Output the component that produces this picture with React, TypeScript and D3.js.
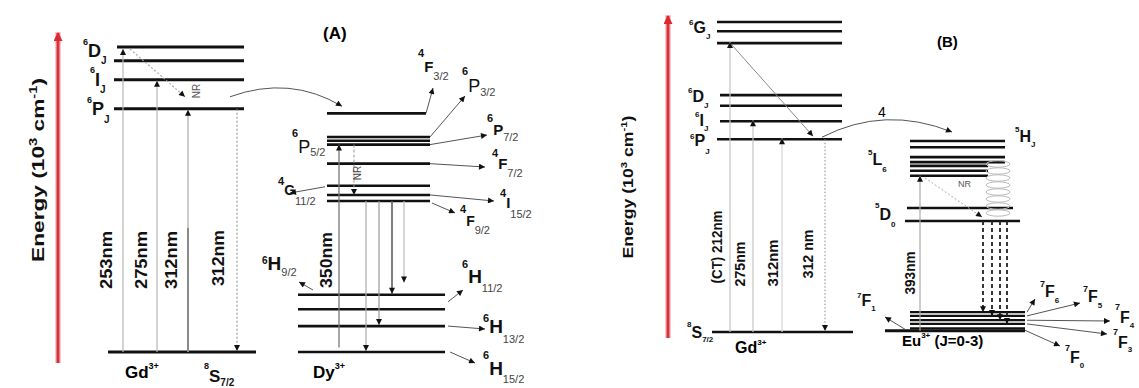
import React from 'react'
import { scaleLinear, path, range } from 'd3'

const FONT = '"Liberation Sans", Arial, Helvetica, sans-serif'

// ---------- panel (A): Gd3+ -> Dy3+ (energies as drawn, 10^3 cm^-1) ----------
const gdLevelsA = [31.9, 35.7, 38.2, 40.0] // 6PJ, 6IJ, 6DJ, 6DJ
const gdGroundA = 0 // 8S7/2
const gdExcLabelsA = ['253nm', '275nm', '312nm']
const gdExcTopsA = [40.0, 35.7, 31.9]
const gdEmissionA = ['312nm', 31.9, 0] as const
const dyUpper = [31.3, 28.2, 27.7, 27.2, 24.7, 21.8, 20.6, 19.8]
const dyLower = [7.5, 5.6, 3.4, 0]
const dyExcitation = ['350nm', 0.6, 27.2] as const
const dyEmissionFrom = 19.8
const dyEmissionTo = [0, 3.4, 7.5, 9.0]
const dyNR = [27.2, 20.6]

// ---------- panel (B): Gd3+ -> Eu3+ ----------
const gdLevelsB = [31.1, 34.0, 36.5, 38.2, 46.6, 48.5, 50.0]
const gdGroundB = 0
const gdExcLabelsB = ['(CT) 212nm', '275nm', '312nm']
const gdExcTopsB = [46.6, 34.0, 31.1]
const gdEmissionB = ['312 nm', 31.1, 0] as const
const euH = [30.8, 29.8]
const euLUpper = [28.2, 27.4]
const euLLower = [26.8, 26.0, 25.2]
const euD = [20.0, 17.9]
const euF = [3.2, 2.6, 1.9, 1.3, 0.6]
const euGround = 0.2
const euExcitation = ['393nm', 0.2, 25.2] as const
const euEmissionFrom = 17.9
const euEmissionTo = [3.2, 2.6, 1.9, 1.3]

// term symbols
const dyTerms = [
  ['4', 'F', '3/2'], ['6', 'P', '3/2'], ['6', 'P', '7/2'], ['4', 'F', '7/2'],
  ['4', 'I', '15/2'], ['4', 'F', '9/2'], ['6', 'H', '11/2'], ['6', 'H', '13/2'], ['6', 'H', '15/2'],
]
const euFTerms = [['7', 'F', '6'], ['7', 'F', '5'], ['7', 'F', '4'], ['7', 'F', '3'], ['7', 'F', '0']]

type TermProps = {
  x: number; y: number; t: string[]
  size?: number; supSize?: number; subSize?: number
  supDy?: number; subDy?: number; weight?: string | number
  subFill?: string; subWeight?: string | number
}

function Term({ x, y, t, size = 17, supSize = 9, subSize = 10, supDy = -11, subDy = 7, weight = 'bold', subFill = '#111', subWeight = 'bold' }: TermProps) {
  return (
    <text x={x} y={y} fontSize={size} fontWeight={weight} fill="#111">
      <tspan fontSize={supSize} dy={supDy} fontWeight="bold">{t[0]}</tspan>
      <tspan dy={-supDy}>{t[1]}</tspan>
      {t[2] ? <tspan fontSize={subSize} dy={subDy} fill={subFill} fontWeight={subWeight}>{t[2]}</tspan> : null}
    </text>
  )
}

const VText = ({ x, y, size, len, children, weight = 'bold', fill = '#111' }: any) => (
  <text transform={`translate(${x},${y}) rotate(-90)`} textAnchor="middle" fontSize={size}
    fontWeight={weight} fill={fill} textLength={len} lengthAdjust="spacingAndGlyphs">{children}</text>
)

const Level = ({ x0, x1, y, w = 2.6 }: { x0: number; x1: number; y: number; w?: number }) => (
  <line x1={x0} x2={x1} y1={y} y2={y} stroke="#111" strokeWidth={w} />
)

export default function App() {
  const yA = scaleLinear().domain([0, 40]).range([352, 47])
  const yB = scaleLinear().domain([0, 50]).range([332, 22])

  // layout (A)
  const gdXA: [number, number] = [114, 244]
  const gdGroundXA: [number, number] = [108, 256]
  const gdExcXA = [123, 157, 188]
  const gdExcLabelXA = [112, 147, 177]
  const dyUpX: [number, number] = [327, 430]
  const dyLowX: [number, number] = [298, 445]
  const dyEmX = [366, 379, 392, 404]
  const dyEmCol = ['#aaa', '#999', '#555', '#bbb']

  // layout (B)
  const gdXB: [number, number] = [717, 842]
  const gdGroundXB: [number, number] = [712, 853]
  const gdExcXB = [730, 753, 782]
  const gdExcLabelXB = [722, 745, 778]
  const gdExcLabelYB = [247, 264, 263]
  const gdExcLenB = [73, 45, 47]
  const euX: [number, number] = [910, 1005]
  const euEmX = [983, 992, 1000, 1007]

  const transferA = path()
  transferA.moveTo(230, yA(gdLevelsA[0]) - 12)
  transferA.quadraticCurveTo(290, 75, 342, yA(dyUpper[0]) - 7)

  const transferB = path()
  transferB.moveTo(822, yB(gdLevelsB[0]) - 2)
  transferB.quadraticCurveTo(885, 105, 952, yB(euH[0]) - 9)

  // Dy term label layout: [x, baseline, supDy, subDy, size, weight]
  const dyTermLayout: [number, number, number, number, number, string][] = [
    [418, 72, -15, 8, 15, 'bold'],
    [462, 92, -17, 4, 18, 'normal'],
    [487, 135, -13, 6, 15, 'bold'],
    [492, 169, -12, 8, 15, 'bold'],
    [500, 208, -11, 10, 15, 'bold'],
    [460, 226, -13, 8, 14, 'bold'],
    [462, 283, -15, 9, 19, 'bold'],
    [483, 333, -11, 10, 19, 'bold'],
    [483, 375, -16, 8, 19, 'bold'],
  ]
  // arrows from the Dy levels to their labels
  const dyArrowFrom: [number, number][] = [
    [dyUpX[1] - 4, yA(dyUpper[0])], [dyUpX[1], yA(dyUpper[1])], [dyUpX[1], yA(dyUpper[3])],
    [dyUpX[1], yA(dyUpper[4])], [dyUpX[1], yA(dyUpper[6])], [dyUpX[1] + 2, yA(dyUpper[7]) + 2],
    [dyLowX[1] + 3, yA(dyLower[0]) + 7], [dyLowX[1] + 3, yA(dyLower[2])], [dyLowX[1] + 5, yA(dyLower[3])],
  ]
  const dyArrowTo: [number, number][] = [
    [433, 88], [465, 96], [487, 135], [485, 167], [494, 201], [455, 213], [463, 290], [485, 329], [475, 363],
  ]

  const euTermLayout: [number, number, number, number][] = [
    [1040, 297, -10, 6], [1083, 302, -10, 6], [1115, 323, -13, 5], [1113, 348, -13, 4], [1065, 363, -12, 5],
  ]
  const euArrowFrom: [number, number][] = [
    [1027, yB(euF[0])], [1027, yB(euF[1])], [1027, yB(euF[2])], [1027, yB(euF[3])], [1025, yB(euF[4]) + 2],
  ]
  const euArrowTo: [number, number][] = [[1035, 299], [1080, 303], [1110, 321], [1107, 334], [1060, 346]]

  return (
    <svg width={1139} height={388} style={{ position: 'absolute', left: 0, top: 0, background: '#fff' }} fontFamily={FONT}>
      <defs>
        <marker id="ah" viewBox="0 0 10 10" refX="10" refY="5" markerWidth="7" markerHeight="6" markerUnits="userSpaceOnUse" orient="auto">
          <path d="M0,0L10,5L0,10z" fill="#111" />
        </marker>
        <marker id="ahRed" viewBox="0 0 10 10" refX="9" refY="5" markerWidth="12" markerHeight="9" markerUnits="userSpaceOnUse" orient="auto">
          <path d="M0,0L10,5L0,10z" fill="#e0262e" />
        </marker>
      </defs>

      {/* ======================= PANEL A ======================= */}
      <line x1={58} x2={58} y1={363} y2={32} stroke="#f4c9cb" strokeWidth={6} />
      <line x1={58} x2={58} y1={363} y2={33} stroke="#d9313a" strokeWidth={3} markerEnd="url(#ahRed)" />
      <VText x={44} y={170} size={17} len={184}>
        Energy (10<tspan fontSize={11} dy={-7}>3</tspan><tspan dy={7}> cm</tspan><tspan fontSize={11} dy={-7}>-1</tspan><tspan dy={7}>)</tspan>
      </VText>
      <text x={323} y={39} fontSize={17} fontWeight="bold">(A)</text>

      {/* Gd3+ levels */}
      {gdLevelsA.map((e, i) => (
        <Level key={i} x0={i === 3 ? gdXA[0] + 3 : gdXA[0]} x1={gdXA[1]} y={yA(e)} w={3} />
      ))}
      <Level x0={gdGroundXA[0]} x1={gdGroundXA[1]} y={yA(gdGroundA)} w={3} />

      {/* Gd excitations */}
      {gdExcTopsA.map((e, i) => (
        <g key={i}>
          <line x1={gdExcXA[i]} x2={gdExcXA[i]} y1={yA(gdGroundA)} y2={yA(e) + (i === 0 ? 2 : 1)} stroke={i === 2 ? '#aaa' : '#b8b8b8'} strokeWidth={1.2} markerEnd="url(#ah)" />
          <VText x={gdExcLabelXA[i]} y={260} size={16} len={58}>{gdExcLabelsA[i]}</VText>
        </g>
      ))}
      <line x1={gdExcXA[2]} x2={gdExcXA[2]} y1={yA(gdGroundA)} y2={228} stroke="#8a8a8a" strokeWidth={2} />
      <line x1={237} x2={237} y1={yA(gdEmissionA[1])} y2={yA(gdEmissionA[2]) - 1} stroke="#888" strokeWidth={1} strokeDasharray="2 2" markerEnd="url(#ah)" />
      <VText x={224} y={258} size={16} len={56}>{gdEmissionA[0]}</VText>
      <line x1={130} y1={yA(gdLevelsA[3]) + 2} x2={185} y2={yA(gdLevelsA[0]) - 12} stroke="#aaa" strokeWidth={1.2} strokeDasharray="2 2" markerEnd="url(#ah)" />
      <VText x={200} y={91} size={10} weight="normal" fill="#555">NR</VText>
      <path d={transferA.toString()} fill="none" stroke="#555" strokeWidth={1} markerEnd="url(#ah)" />

      <Term x={83} y={57} t={['6', 'D', 'J']} size={18} supDy={-12} subDy={7} />
      <Term x={90} y={86} t={['6', 'I', 'J']} size={18} supDy={-13} subDy={7} />
      <Term x={87} y={115} t={['6', 'P', 'J']} size={18} supDy={-12} subDy={8} />
      <Term x={204} y={382} t={['8', 'S', '7/2']} size={17} supDy={-13} subDy={4} />
      <text x={125} y={378} fontSize={17} fontWeight="bold">Gd<tspan fontSize={9} dy={-9}>3+</tspan></text>

      {/* Dy3+ levels */}
      {dyUpper.map((e, i) => <Level key={i} x0={dyUpX[0]} x1={i === 0 ? dyUpX[1] - 4 : dyUpX[1]} y={yA(e)} />)}
      {dyLower.map((e, i) => <Level key={i} x0={dyLowX[0]} x1={dyLowX[1]} y={yA(e)} />)}

      <line x1={339} x2={339} y1={yA(dyExcitation[1])} y2={yA(dyExcitation[2])} stroke="#777" strokeWidth={1.3} markerEnd="url(#ah)" />
      <VText x={332} y={260} size={16} len={56}>{dyExcitation[0]}</VText>
      <line x1={354} x2={354} y1={yA(dyNR[0])} y2={yA(dyNR[1])} stroke="#999" strokeWidth={1} strokeDasharray="3 2" markerEnd="url(#ah)" />
      <VText x={361} y={173} size={10} weight="normal" fill="#444">NR</VText>
      {dyEmissionTo.map((e, i) => (
        <line key={i} x1={dyEmX[i]} x2={dyEmX[i]} y1={yA(dyEmissionFrom)} y2={yA(e) - 1} stroke={dyEmCol[i]} strokeWidth={i === 2 ? 1.5 : 1.2} markerEnd="url(#ah)" />
      ))}

      {dyArrowFrom.map((p, i) => (
        <line key={i} x1={p[0]} y1={p[1]} x2={dyArrowTo[i][0]} y2={dyArrowTo[i][1]} stroke="#555" strokeWidth={1} markerEnd="url(#ah)" />
      ))}
      {dyTerms.map((t, i) => {
        const [x, y, sd, bd, sz, wt] = dyTermLayout[i]
        return <Term key={i} x={x} y={y} t={t} size={sz} weight={wt} supSize={11} subSize={11} supDy={sd} subDy={bd} subFill="#444" subWeight="normal" />
      })}
      <line x1={325} y1={yA(dyUpper[5]) + 1} x2={290} y2={193} stroke="#555" strokeWidth={1} markerEnd="url(#ah)" />
      <Term x={278} y={195} t={['4', 'G', '11/2']} size={14} supSize={11} subSize={11} supDy={-10} subDy={10} subFill="#444" subWeight="normal" />
      <Term x={292} y={153} t={['6', 'P', '5/2']} size={18} weight="normal" supSize={11} subSize={11} supDy={-16} subDy={3} subFill="#444" subWeight="normal" />
      <line x1={313} y1={290} x2={299} y2={282} stroke="#555" strokeWidth={1} markerEnd="url(#ah)" />
      <Term x={262} y={270} t={['6', 'H', '9/2']} size={19} supSize={10} subSize={11} supDy={-6} subDy={6} subFill="#444" subWeight="normal" />
      <text x={313} y={378} fontSize={17} fontWeight="bold">Dy<tspan fontSize={9} dy={-9}>3+</tspan></text>

      {/* ======================= PANEL B ======================= */}
      <line x1={668} x2={668} y1={338} y2={15} stroke="#f4c9cb" strokeWidth={6} />
      <line x1={668} x2={668} y1={338} y2={16} stroke="#d9313a" strokeWidth={3} markerEnd="url(#ahRed)" />
      <VText x={633} y={187} size={14} len={143}>
        Energy (10<tspan fontSize={9} dy={-6}>3</tspan><tspan dy={6}> cm</tspan><tspan fontSize={9} dy={-6}>-1</tspan><tspan dy={6}>)</tspan>
      </VText>
      <text x={937} y={47} fontSize={15} fontWeight="bold">(B)</text>

      {gdLevelsB.map((e, i) => <Level key={i} x0={i >= 1 && i <= 3 ? gdXB[0] + 3 : gdXB[0]} x1={gdXB[1]} y={yB(e)} />)}
      <Level x0={gdGroundXB[0]} x1={gdGroundXB[1]} y={yB(gdGroundB)} />

      {gdExcTopsB.map((e, i) => (
        <g key={i}>
          <line x1={gdExcXB[i]} x2={gdExcXB[i]} y1={yB(gdGroundB)} y2={yB(e) - 1} stroke={i === 2 ? '#d4d4d4' : '#c4c4c4'} strokeWidth={1.2} markerEnd="url(#ah)" />
          <VText x={gdExcLabelXB[i]} y={gdExcLabelYB[i]} size={14} len={gdExcLenB[i]}>{gdExcLabelsB[i]}</VText>
        </g>
      ))}
      <line x1={825} x2={825} y1={yB(gdEmissionB[1])} y2={yB(gdEmissionB[2]) - 1} stroke="#888" strokeWidth={1} strokeDasharray="1.5 2" markerEnd="url(#ah)" />
      <VText x={813} y={254} size={14} len={49}>{gdEmissionB[0]}</VText>
      <line x1={732} y1={yB(gdLevelsB[4]) + 2} x2={813} y2={yB(gdLevelsB[0]) - 3} stroke="#888" strokeWidth={1} markerEnd="url(#ah)" />
      <path d={transferB.toString()} fill="none" stroke="#555" strokeWidth={1} markerEnd="url(#ah)" />
      <text x={878} y={117} fontSize={14}>4</text>

      <Term x={689} y={33} t={['6', 'G', 'J']} size={16} supSize={8} subSize={8} supDy={-8} subDy={6} />
      <Term x={688} y={102} t={['6', 'D', 'J']} size={16} supSize={8} subSize={8} supDy={-9} subDy={6} />
      <Term x={695} y={126} t={['6', 'I', 'J']} size={16} supSize={8} subSize={8} supDy={-9} subDy={5} />
      <Term x={690} y={146} t={['6', 'P', 'J']} size={16} supSize={8} subSize={8} supDy={-7} subDy={8} />
      <Term x={687} y={338} t={['8', 'S', '7/2']} size={16} supSize={8} subSize={8} supDy={-11} subDy={4} />
      <text x={735} y={353} fontSize={16} fontWeight="bold">Gd<tspan fontSize={8} dy={-8}>3+</tspan></text>

      {/* Eu3+ levels */}
      {euH.map((e, i) => <Level key={'h' + i} x0={euX[0]} x1={euX[1]} y={yB(e)} />)}
      {euLUpper.map((e, i) => <Level key={'lu' + i} x0={euX[0]} x1={euX[1]} y={yB(e)} />)}
      {euLLower.map((e, i) => <Level key={'ll' + i} x0={euX[0]} x1={988} y={yB(e)} />)}
      <Level x0={907} x1={1013} y={yB(euD[0])} />
      <Level x0={905} x1={1020} y={yB(euD[1])} />
      {euF.map((e, i) => <Level key={'f' + i} x0={euX[0]} x1={1025} y={yB(e)} w={2.2} />)}
      <Level x0={885} x1={1025} y={yB(euGround)} w={3} />

      {range(8).map((k) => (
        <ellipse key={k} cx={998} cy={164 + k * 7} rx={12} ry={3.2} fill="none" stroke="#bbb" strokeWidth={1} />
      ))}
      <line x1={925} y1={178} x2={982} y2={yB(euD[1]) - 4} stroke="#aaa" strokeWidth={1} strokeDasharray="2 2" markerEnd="url(#ah)" />
      <text x={958} y={187} fontSize={9} fill="#555">NR</text>

      <line x1={920} x2={920} y1={yB(euExcitation[1])} y2={yB(euExcitation[2])} stroke="#aaa" strokeWidth={1.2} markerEnd="url(#ah)" />
      <VText x={915} y={273} size={15} len={43}>{euExcitation[0]}</VText>
      {euEmissionTo.map((e, i) => (
        <line key={i} x1={euEmX[i]} x2={euEmX[i]} y1={yB(euEmissionFrom)} y2={yB(e)} stroke="#222" strokeWidth={1.8} strokeDasharray="4 3" markerEnd="url(#ah)" />
      ))}

      <Term x={868} y={165} t={['5', 'L', '6']} size={16} supSize={8} subSize={8} supDy={-10} subDy={7} />
      <Term x={1015} y={142} t={['5', 'H', 'J']} size={16} supSize={8} subSize={8} supDy={-10} subDy={5} />
      <Term x={875} y={220} t={['5', 'D', '0']} size={16} supSize={8} subSize={8} supDy={-12} subDy={7} />
      <line x1={905} y1={yB(euF[4]) + 1} x2={885} y2={317} stroke="#555" strokeWidth={1} markerEnd="url(#ah)" />
      <Term x={857} y={306} t={['7', 'F', '1']} size={16} supSize={8} subSize={8} supDy={-8} subDy={5} />
      {euArrowFrom.map((p, i) => (
        <line key={i} x1={p[0]} y1={p[1]} x2={euArrowTo[i][0]} y2={euArrowTo[i][1]} stroke="#555" strokeWidth={1} markerEnd="url(#ah)" />
      ))}
      {euFTerms.map((t, i) => {
        const [x, y, sd, bd] = euTermLayout[i]
        return <Term key={i} x={x} y={y} t={t} size={16} supSize={9} subSize={8} supDy={sd} subDy={bd} />
      })}
      <text x={902} y={346} fontSize={15} fontWeight="bold">Eu<tspan fontSize={8} dy={-8}>3+</tspan><tspan dy={8}> (J=0-3)</tspan></text>
    </svg>
  )
}
